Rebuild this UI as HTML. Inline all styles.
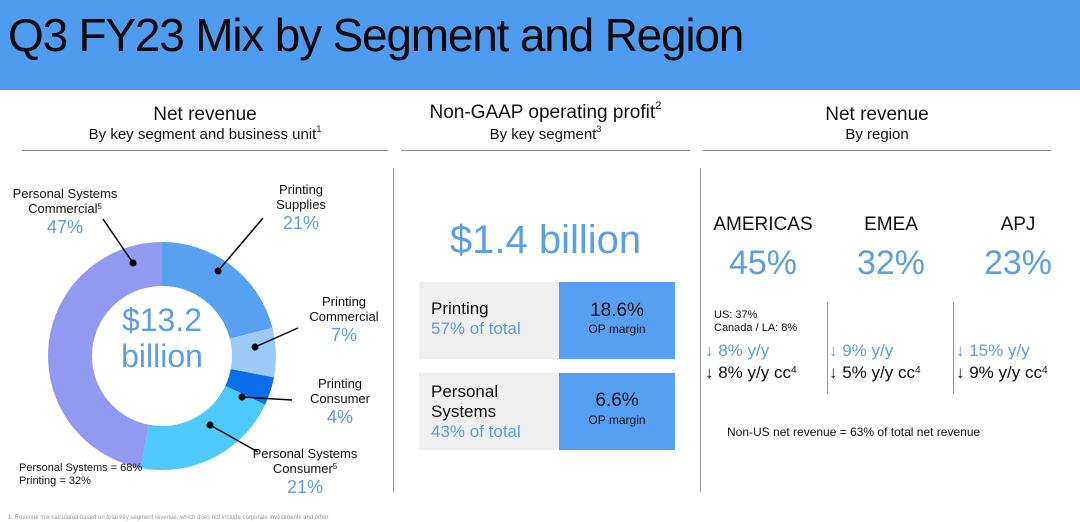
<!DOCTYPE html>
<html><head><meta charset="utf-8"><style>
body{margin:0;width:1080px;height:522px;overflow:hidden;background:#fff;font-family:"Liberation Sans",sans-serif;position:relative;color:#111}
.a{position:absolute;white-space:nowrap}
.c{text-align:center}
.b{color:#5a9ee6}
.p{font-size:18px;line-height:22px}
sup{font-size:60%;vertical-align:top;position:relative;top:-2px}
</style></head><body>
<div class="a" style="left:0;top:0;width:1080px;height:90px;background:#4f9bef"></div>
<div class="a" style="left:8px;top:8px;font-size:46px;letter-spacing:-1.2px;color:#0a0a0a">Q3 FY23 Mix by Segment and Region</div>

<div class="a c" style="left:22px;width:366px;top:104px;font-size:19px">Net revenue</div>
<div class="a c" style="left:22px;width:366px;top:126px;font-size:15px">By key segment and business unit<sup>1</sup></div>
<div class="a c" style="left:401px;width:289px;top:102px;font-size:19px">Non-GAAP operating profit<sup>2</sup></div>
<div class="a c" style="left:401px;width:289px;top:126px;font-size:15px">By key segment<sup>3</sup></div>
<div class="a c" style="left:703px;width:348px;top:104px;font-size:19px">Net revenue</div>
<div class="a c" style="left:703px;width:348px;top:126px;font-size:15px">By region</div>
<div class="a" style="left:22px;width:366px;top:150px;height:1px;background:#888"></div>
<div class="a" style="left:401px;width:289px;top:150px;height:1px;background:#888"></div>
<div class="a" style="left:703px;width:348px;top:150px;height:1px;background:#888"></div>
<div class="a" style="left:393px;top:168px;width:1px;height:324px;background:#999"></div>
<div class="a" style="left:700px;top:168px;width:1px;height:324px;background:#999"></div>

<svg class="a" style="left:0;top:0" width="400" height="522">
<g transform="rotate(-90 162 356)" fill="none" stroke-width="44">
<circle cx="162" cy="356" r="92" stroke="#58a0f0" stroke-dasharray="121.39 578.05" stroke-dashoffset="0"/>
<circle cx="162" cy="356" r="92" stroke="#9ccaf7" stroke-dasharray="40.46 578.05" stroke-dashoffset="-121.39"/>
<circle cx="162" cy="356" r="92" stroke="#0a6ee8" stroke-dasharray="23.12 578.05" stroke-dashoffset="-161.85"/>
<circle cx="162" cy="356" r="92" stroke="#4fc8fb" stroke-dasharray="121.39 578.05" stroke-dashoffset="-184.97"/>
<circle cx="162" cy="356" r="92" stroke="#9199f0" stroke-dasharray="271.68 578.05" stroke-dashoffset="-306.36"/>
</g>
<g stroke="#000" stroke-width="1.5">
<line x1="218" y1="271" x2="263" y2="218"/><line x1="255" y1="347" x2="298" y2="328"/>
<line x1="242" y1="397" x2="292" y2="400"/><line x1="210" y1="425" x2="258" y2="452"/>
<line x1="133" y1="263" x2="103" y2="219"/>
</g>
<g fill="#000"><circle cx="218" cy="271" r="3.5"/><circle cx="255" cy="347" r="3.5"/><circle cx="242" cy="397" r="3.5"/><circle cx="210" cy="425" r="3.5"/><circle cx="133" cy="263" r="3.5"/></g>
</svg>
<div class="a c b" style="left:92px;width:140px;top:302px;font-size:32px;line-height:36px">$13.2<br>billion</div>
<div class="a c" style="left:0;width:130px;top:186px;font-size:13px;line-height:15px">Personal Systems<br>Commercial<sup>5</sup><br><span class="b p">47%</span></div>
<div class="a c" style="left:260px;width:82px;top:182px;font-size:13px;line-height:15px">Printing<br>Supplies<br><span class="b p">21%</span></div>
<div class="a c" style="left:302px;width:84px;top:294px;font-size:13px;line-height:15px">Printing<br>Commercial<br><span class="b p">7%</span></div>
<div class="a c" style="left:300px;width:80px;top:376px;font-size:13px;line-height:15px">Printing<br>Consumer<br><span class="b p">4%</span></div>
<div class="a c" style="left:245px;width:120px;top:446px;font-size:13px;line-height:15px">Personal Systems<br>Consumer<sup>5</sup><br><span class="b p">21%</span></div>
<div class="a" style="left:19px;top:462px;font-size:11px;line-height:13px">Personal Systems = 68%<br>Printing = 32%</div>
<div class="a" style="left:8px;top:515px;font-size:6px;color:#999">1. Revenue mix calculated based on total key segment revenue, which does not include corporate investments and other.</div>

<div class="a c b" style="left:401px;width:289px;top:218px;font-size:40px">$1.4 billion</div>
<div class="a" style="left:419px;top:282px;width:140px;height:77px;background:#efefef"></div>
<div class="a" style="left:559px;top:282px;width:116px;height:77px;background:#569ff2"></div>
<div class="a" style="left:419px;top:373px;width:140px;height:77px;background:#efefef"></div>
<div class="a" style="left:559px;top:373px;width:116px;height:77px;background:#569ff2"></div>
<div class="a" style="left:431px;top:299px;font-size:17px;line-height:20px">Printing<br><span class="b">57% of total</span></div>
<div class="a" style="left:431px;top:382px;font-size:17px;line-height:20px">Personal<br>Systems<br><span class="b">43% of total</span></div>
<div class="a c" style="left:559px;width:116px;top:300px;font-size:19px">18.6%</div>
<div class="a c" style="left:559px;width:116px;top:322px;font-size:12px">OP margin</div>
<div class="a c" style="left:559px;width:116px;top:390px;font-size:19px">6.6%</div>
<div class="a c" style="left:559px;width:116px;top:413px;font-size:12px">OP margin</div>

<div class="a c" style="left:700px;width:126px;top:214px;font-size:19px">AMERICAS</div>
<div class="a c" style="left:828px;width:126px;top:214px;font-size:19px">EMEA</div>
<div class="a c" style="left:955px;width:126px;top:214px;font-size:19px">APJ</div>
<div class="a c b" style="left:700px;width:126px;top:244px;font-size:34px">45%</div>
<div class="a c b" style="left:828px;width:126px;top:244px;font-size:34px">32%</div>
<div class="a c b" style="left:955px;width:126px;top:244px;font-size:34px">23%</div>
<div class="a" style="left:827px;top:302px;width:1px;height:92px;background:#999"></div>
<div class="a" style="left:953px;top:302px;width:1px;height:92px;background:#999"></div>
<div class="a" style="left:714px;top:309px;font-size:11px;line-height:13px">US: 37%<br>Canada / LA: 8%</div>
<div class="a" style="left:705px;top:340px;font-size:17px;line-height:22px"><span class="b">↓ 8% y/y</span><br>↓ 8% y/y cc<sup>4</sup></div>
<div class="a" style="left:829px;top:340px;font-size:17px;line-height:22px"><span class="b">↓ 9% y/y</span><br>↓ 5% y/y cc<sup>4</sup></div>
<div class="a" style="left:956px;top:340px;font-size:17px;line-height:22px"><span class="b">↓ 15% y/y</span><br>↓ 9% y/y cc<sup>4</sup></div>
<div class="a" style="left:727px;top:425px;font-size:12px">Non-US net revenue = 63% of total net revenue</div>
</body></html>
